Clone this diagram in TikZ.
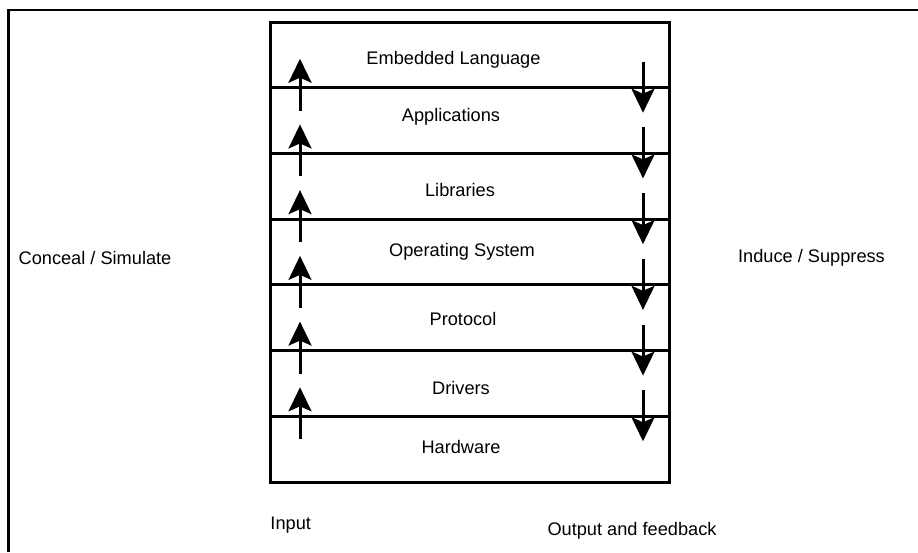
\documentclass[tikz,border=0pt]{standalone}
\usepackage{fontspec}
\setmainfont{Liberation Sans}
\usetikzlibrary{arrows.meta,calc}
\begin{document}
\begin{tikzpicture}[
  x=1pt, y=-1pt,
  layer/.style={draw, line width=3pt, rectangle, minimum width=399pt,
    minimum height=65.71pt, inner sep=0pt, outer sep=0pt},
  lbl/.style={font=\fontsize{18.2pt}{20pt}\selectfont, text height=13pt,
    text depth=0pt, inner sep=0pt},
  flow/.style={line width=3pt,
    -{Stealth[length=24pt,width=23pt,inset=5pt]}},
  frame/.style={line width=2.5pt}
]
\useasboundingbox (0,0) rectangle (918,552);

% outer frame, open towards the right and bottom edges
\draw[frame] (8.5,552) -- (8.5,10) -- (918,10);

% the stack of layers
\node[layer] (lang)    at (469.5, 54.86)  {};
\node[layer] (apps)    at (469.5, 120.57) {};
\node[layer] (libs)    at (469.5, 186.29) {};
\node[layer] (os)      at (469.5, 252.00) {};
\node[layer] (proto)   at (469.5, 317.71) {};
\node[layer] (drivers) at (469.5, 383.43) {};
\node[layer] (hw)      at (469.5, 449.14) {};

% layer names
\node[lbl] (t-lang)    at (453.5, 58) {Embedded Language};
\node[lbl] (t-apps)    at (451, 115) {Applications};
\node[lbl] (t-libs)    at (460, 190) {Libraries};
\node[lbl] (t-os)      at (462, 250) {Operating System};
\node[lbl] (t-proto)   at (463, 319) {Protocol};
\node[lbl] (t-drivers) at (461, 388) {Drivers};
\node[lbl] (t-hw)      at (461, 447) {Hardware};

% input rises through the layers, output descends
\foreach \lo in {apps,libs,os,proto,drivers,hw} {
  \draw[flow] ($(\lo.north west)+(30,23)$) -- ($(\lo.north west)+(30,-29)$);
  \draw[flow] ($(\lo.north east)+(-26,-26)$) -- ($(\lo.north east)+(-26,25)$);
}

% side and bottom captions
\node[lbl] (conceal) at (95, 258)    {Conceal / Simulate};
\node[lbl] (induce)  at (811.5, 256) {Induce / Suppress};
\node[lbl] (input)   at (290.7, 522.5) {Input};
\node[lbl] (output)  at (632, 528.5) {Output and feedback};
\end{tikzpicture}
\end{document}
